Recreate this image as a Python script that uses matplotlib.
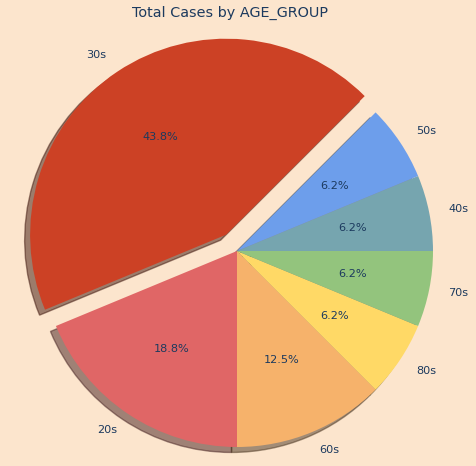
import matplotlib
matplotlib.use('Agg')
import matplotlib.pyplot as plt

labels = ['40s', '50s', '30s', '20s', '60s', '80s', '70s']
cases = [1, 1, 7, 3, 2, 1, 1]
colors = ['#76a5af', '#6d9eeb', '#cc4125', '#e06666', '#f6b26b', '#ffd966', '#93c47d']
explode = [0, 0, 0.1, 0, 0, 0, 0]

text_color = '#1c3a5e'
bg = '#fce5cd'

fig = plt.figure(figsize=(4.77, 4.66), dpi=100, facecolor=bg)
ax = fig.add_axes([0, 0, 1, 1])
ax.set_facecolor(bg)

wedges, texts, autotexts = ax.pie(
    cases, labels=labels, colors=colors, explode=explode,
    autopct='%1.1f%%', startangle=0, shadow=True,
    textprops={'color': text_color, 'fontsize': 8.1})

# scale: pie radius ~196 px, centre at (237, 215) px from bottom-left
r = 196.0
ax.set_xlim(-237 / r, (477 - 237) / r)
ax.set_ylim(-215 / r, (466 - 215) / r)
ax.set_aspect('auto')
ax.axis('off')

fig.text(230.5 / 477, 1 - 13 / 466, 'Total Cases by AGE_GROUP',
         ha='center', va='center', fontsize=10.4, color=text_color)

plt.savefig('out.png', dpi=100, facecolor=bg)
plt.close()
